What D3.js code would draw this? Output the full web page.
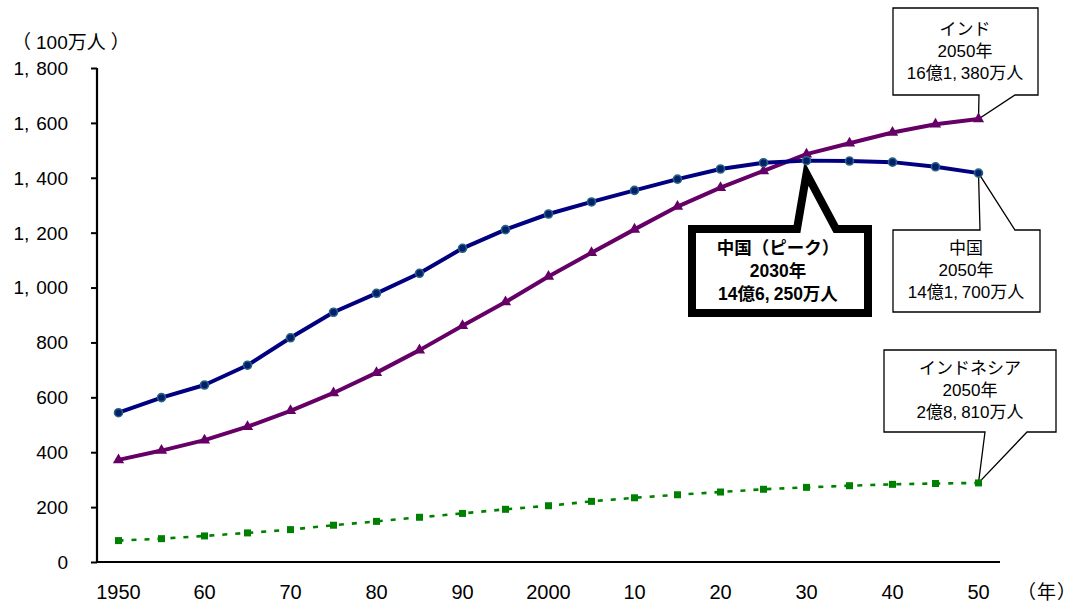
<!DOCTYPE html>
<html lang="ja">
<head>
<meta charset="utf-8">
<script src="https://cdn.jsdelivr.net/npm/d3@7"></script>
<style>
  html, body { margin: 0; padding: 0; background: #fff; }
  svg { display: block; }
  text { font-family: "Liberation Sans", Arial, "Noto Sans CJK JP", sans-serif; fill: #000; }
</style>
</head>
<body>
<svg id="chart" width="1081" height="610"></svg>
<script>
// Population by year (millions)
const years = [1950,1955,1960,1965,1970,1975,1980,1985,1990,1995,2000,2005,2010,2015,2020,2025,2030,2035,2040,2045,2050];
const china = [544,599,645,717,817,910,979,1052,1143,1211,1268,1312,1354,1395,1432,1455,1462.5,1461,1457,1440,1417];
const india = [372,406,444,493,551,616,690,772,861,947,1040,1127,1212,1295,1364,1425,1486,1526,1565,1595,1613.8];
const indonesia = [78,85,95,106,118,134,148,163,177,192,205,221,234,245,255,265,272,278,283,286,288.1];

const xTickYears = [1950,1960,1970,1980,1990,2000,2010,2020,2030,2040,2050];
const xTickLabels = ["1950","60","70","80","90","2000","10","20","30","40","50"];
const yTicks = [0,200,400,600,800,1000,1200,1400,1600,1800];
const yTickLabels = ["0","200","400","600","800","1,000","1,200","1,400","1,600","1,800"];

const svg = d3.select("#chart");

const x = d3.scalePoint().domain(years).range([97, 1000]).padding(0.5);
const y = d3.scaleLinear().domain([0, 1800]).range([562, 68]);

// Write a label, widening the thousands separator a little
function numText(sel, s, gap) {
  const parts = s.split(",");
  sel.append("tspan").text(parts[0] + (parts.length > 1 ? "," : ""));
  if (parts.length > 1) sel.append("tspan").attr("dx", gap).text(parts[1]);
}

// Unit label with a little air inside the brackets
function unitText(sel, inner, gap) {
  sel.append("tspan").text("（");
  sel.append("tspan").attr("dx", gap).text(inner);
  sel.append("tspan").attr("dx", gap).text("）");
}

// Axes
const yAxis = svg.append("g").attr("transform", "translate(97,0)")
  .call(d3.axisLeft(y).tickValues(yTicks).tickSize(6).tickFormat(""));
yAxis.select(".domain").attr("d", `M0,${y(1800)}V${y(0)}`).attr("stroke", "#000").attr("stroke-width", 2.2);
yAxis.selectAll(".tick line").attr("stroke", "#000").attr("stroke-width", 2);

yTicks.forEach((v, i) => {
  const t = svg.append("text").attr("x", 68).attr("y", y(v)).attr("dy", "0.36em")
    .attr("text-anchor", "end").attr("font-size", 19);
  numText(t, yTickLabels[i], 7);
});

const xAxis = svg.append("g").attr("transform", `translate(0,${y(0)})`)
  .call(d3.axisBottom(x).tickValues([]).tickSize(0));
xAxis.select(".domain").attr("d", `M97,0H1000`).attr("stroke", "#000").attr("stroke-width", 2.2);

xTickYears.forEach((yr, i) => {
  svg.append("text").attr("x", x(yr)).attr("y", 592).attr("dy", "0.36em")
    .attr("text-anchor", "middle").attr("font-size", 20).text(xTickLabels[i]);
});

unitText(svg.append("text").attr("x", 12).attr("y", 42).attr("dy", "0.36em")
  .attr("font-size", 19), "100万人", 5);
unitText(svg.append("text").attr("x", 1017).attr("y", 592).attr("dy", "0.36em")
  .attr("font-size", 19), "年", 1);

// Callouts
function callout(box, side, b1, b2, tip, lines, opts) {
  const [l, t, r, b] = box;
  let d;
  if (side === "bottom") {
    d = `M${l},${t}H${r}V${b}H${b2}L${tip[0]},${tip[1]}L${b1},${b}H${l}Z`;
  } else {
    d = `M${l},${t}H${b1}L${tip[0]},${tip[1]}L${b2},${t}H${r}V${b}H${l}Z`;
  }
  svg.append("path").attr("d", d).attr("fill", "#fff").attr("stroke", "#000")
    .attr("stroke-width", opts.sw).attr("stroke-linejoin", "miter").attr("stroke-miterlimit", 10);
  lines.forEach((s, i) => {
    const tx = svg.append("text").attr("x", opts.cx).attr("y", opts.y0 + i * opts.lh)
      .attr("dy", "0.36em").attr("text-anchor", "middle").attr("font-size", opts.fs)
      .attr("font-weight", opts.bold ? "bold" : "normal");
    numText(tx, s, 4);
  });
}

const last = years[years.length - 1];
callout([893, 8, 1038, 95], "bottom", 979, 1015, [x(last), y(india[india.length - 1])],
  ["インド", "2050年", "16億1,380万人"], {cx: 965, y0: 29, lh: 22, fs: 17, sw: 1.3});
callout([893, 230, 1040, 312], "top", 980, 1015, [x(last), y(china[china.length - 1])],
  ["中国", "2050年", "14億1,700万人"], {cx: 966, y0: 248, lh: 22, fs: 17, sw: 1.3});
callout([884, 350, 1056, 432], "bottom", 985, 1027, [x(last), y(indonesia[indonesia.length - 1])],
  ["インドネシア", "2050年", "2億8,810万人"], {cx: 970, y0: 368, lh: 22, fs: 17, sw: 1.3});

const peakIdx = china.indexOf(d3.max(china));
callout([692, 229, 868, 313], "top", 797, 836, [x(years[peakIdx]), y(china[peakIdx]) + 13],
  ["中国（ピーク）", "2030年", "14億6,250万人"], {cx: 778, y0: 248, lh: 23, fs: 17.5, sw: 8, bold: true});

// Series lines
const line = d3.line().x((d, i) => x(years[i])).y(d => y(d));

svg.append("path").datum(indonesia).attr("d", line).attr("fill", "none")
  .attr("stroke", "#008000").attr("stroke-width", 2.6).attr("stroke-dasharray", "5,8");
svg.selectAll(".m-ido").data(indonesia).join("rect")
  .attr("x", (d, i) => x(years[i]) - 3.5).attr("y", d => y(d) - 3.5)
  .attr("width", 7).attr("height", 7).attr("fill", "#008000");

svg.append("path").datum(india).attr("d", line).attr("fill", "none")
  .attr("stroke", "#660066").attr("stroke-width", 4).attr("stroke-linejoin", "round");
svg.selectAll(".m-ind").data(india).join("path")
  .attr("d", d3.symbol(d3.symbolTriangle, 55))
  .attr("transform", (d, i) => `translate(${x(years[i])},${y(d)})`)
  .attr("fill", "#660066");

svg.append("path").datum(china).attr("d", line).attr("fill", "none")
  .attr("stroke", "#000080").attr("stroke-width", 4).attr("stroke-linejoin", "round");
svg.selectAll(".m-chn").data(china).join("circle")
  .attr("cx", (d, i) => x(years[i])).attr("cy", d => y(d)).attr("r", 4)
  .attr("fill", "#00206e").attr("stroke", "#2a627f").attr("stroke-width", 1.6);
</script>
</body>
</html>
